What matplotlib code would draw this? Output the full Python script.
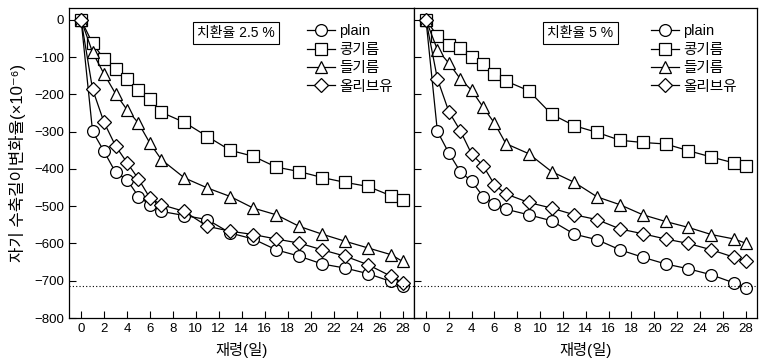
import numpy as np
import matplotlib
matplotlib.use('Agg')
import matplotlib.pyplot as plt

plt.rcParams['font.family'] = ['Liberation Sans', 'Noto Sans CJK KR', 'DejaVu Sans']

# age (days) at which shrinkage was measured
days = [0, 1, 2, 3, 4, 5, 6, 7, 9, 11, 13, 15, 17, 19, 21, 23, 25, 27, 28]
series_names = ['plain', '콩기름', '들기름', '올리브유']
markers = ['o', 's', '^', 'D']

# replacement ratio 2.5 %
plain_25 = [0, -299, -353, -409, -429, -474, -496, -514, -525, -536, -572, -588,
            -617, -634, -655, -666, -681, -702, -715]
soy_25 = [0, -63, -105, -132, -158, -188, -213, -248, -275, -313, -350, -366,
          -395, -407, -423, -436, -447, -472, -483]
perilla_25 = [0, -87, -145, -198, -241, -277, -331, -375, -424, -451, -474, -505,
              -523, -554, -575, -594, -612, -630, -648]
olive_25 = [0, -186, -275, -338, -383, -427, -478, -496, -514, -554, -567, -576,
            -588, -599, -617, -634, -657, -688, -705]

# replacement ratio 5 %
plain_5 = [0, -299, -357, -407, -433, -474, -493, -508, -523, -539, -575, -590,
           -617, -637, -655, -668, -684, -706, -720]
soy_5 = [0, -43, -67, -76, -100, -119, -145, -164, -190, -253, -284, -302,
         -323, -329, -333, -351, -368, -384, -393]
perilla_5 = [0, -80, -116, -158, -189, -234, -277, -332, -359, -407, -436, -475,
             -496, -523, -541, -557, -576, -588, -599]
olive_5 = [0, -158, -246, -297, -360, -391, -442, -467, -490, -505, -523, -536,
           -561, -574, -588, -600, -617, -637, -648]

ref_level = -715   # dotted reference line
panel_titles = ['치환율 2.5 %', '치환율 5 %']
x_ticks = np.arange(0, 29, 2)
y_ticks = np.arange(-800, 1, 100)

fig = plt.figure(figsize=(7.62, 3.62), dpi=100)
ax1 = fig.add_axes([0.0906, 0.1215, 0.4527, 0.8565])
ax2 = fig.add_axes([0.5433, 0.1215, 0.4501, 0.8565], sharey=ax1)

panels = [(ax1, [plain_25, soy_25, perilla_25, olive_25]),
          (ax2, [plain_5, soy_5, perilla_5, olive_5])]

for i, (ax, data) in enumerate(panels):
    for vals, name, m in zip(data, series_names, markers):
        ms = 7.5 if m == 'D' else 8.5
        ax.plot(days, vals, '-', color='black', lw=0.9, marker=m, ms=ms,
                mfc='white', mec='black', mew=0.9, label=name)
    ax.axhline(ref_level, color='black', lw=0.8, ls=(0, (1, 2)))
    ax.set_xlim(-1.05, 29)
    ax.set_ylim(-800, 32)
    ax.set_xticks(x_ticks)
    ax.set_yticks(y_ticks)
    ax.tick_params(direction='in', length=5, width=0.8, labelsize=9.5,
                   top=False, right=False)
    ax.set_xlabel('재령(일)', fontsize=11, labelpad=5)
    ax.text(0.485, 0.92, panel_titles[i], transform=ax.transAxes, fontsize=10,
            ha='center', va='center',
            bbox=dict(boxstyle='square,pad=0.3', fc='white', ec='black', lw=0.8))
    ax.legend(loc='upper left', bbox_to_anchor=(0.665, 0.975), frameon=False,
              fontsize=10.5, handlelength=1.9, handletextpad=0.3,
              labelspacing=0.3, borderaxespad=0.2)
    for sp in ax.spines.values():
        sp.set_linewidth(0.9)

ax2.tick_params(labelleft=False)
ax1.set_ylabel('자기 수축길이변화율(×10⁻⁶)', fontsize=12, labelpad=6)

fig.savefig('out.png', dpi=100)
